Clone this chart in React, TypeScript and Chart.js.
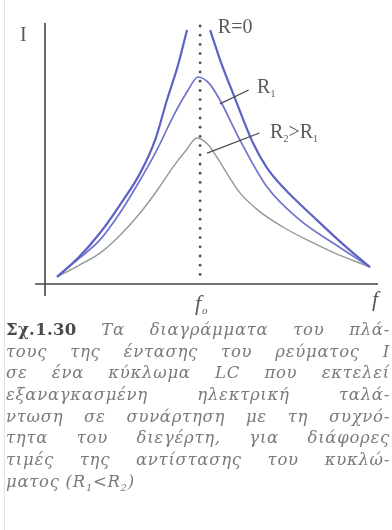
import React, { useEffect, useRef } from "react";
import { Chart, registerables } from "chart.js";

Chart.register(...registerables);

// frequency (arbitrary units, f0 ≈ 4.63) and current amplitude (arbitrary units)
const F0 = 4.63;
const r0Freq = [0.36, 1.0, 1.64, 2.24, 2.84, 3.3, 3.64, 3.95, 4.24, F0, 4.93, 5.25, 5.61, 6.21, 6.6, 7.1, 8.12, 8.9, 9.7];
const r0Amp = [0.27, 1.0, 1.93, 3.0, 4.2, 5.5, 6.97, 8.2, 9.62, null, 9.62, 8.4, 7.23, 5.34, 4.45, 3.67, 2.42, 1.5, 0.64];

const r1Freq = [0.36, 1.0, 1.64, 2.24, 2.84, 3.35, 3.82, 4.25, 4.57, 4.9, 5.22, 5.82, 6.63, 7.61, 8.6, 9.7];
const r1Amp = [0.27, 0.95, 1.67, 2.7, 3.94, 5.1, 6.33, 7.3, 7.84, 7.6, 6.97, 5.45, 3.67, 2.42, 1.55, 0.64];

const r2Freq = [0.36, 1.0, 1.64, 2.24, 2.84, 3.35, 3.82, 4.2, 4.54, 4.85, 5.13, 5.5, 5.82, 6.4, 7.1, 7.9, 8.6, 9.7];
const r2Amp = [0.27, 0.7, 1.17, 1.85, 2.69, 3.55, 4.43, 5.05, 5.53, 5.3, 4.81, 4.05, 3.45, 2.75, 2.16, 1.62, 1.2, 0.64];

const seriesLabels = ["R=0", "R₁", "R₂>R₁"];

const captionLines = [
  "τους της έντασης του ρεύματος I",
  "σε ένα κύκλωμα LC που εκτελεί",
  "εξαναγκασμένη ηλεκτρική ταλά-",
  "ντωση σε συνάρτηση με τη συχνό-",
  "τητα του διεγέρτη, για διάφορες",
  "τιμές της αντίστασης του κυκλώ-",
];

const pts = (xs: number[], ys: (number | null)[]) => xs.map((x, i) => ({ x, y: ys[i] }));

const extrasPlugin = {
  id: "extras",
  afterDraw(chart: any) {
    const { ctx, chartArea } = chart;
    const xs = chart.scales.x;
    const ys = chart.scales.y;
    const px = (v: number) => xs.getPixelForValue(v);
    const py = (v: number) => ys.getPixelForValue(v);
    ctx.save();
    // axes
    ctx.strokeStyle = "#454545";
    ctx.lineWidth = 1.6;
    ctx.beginPath();
    ctx.moveTo(chartArea.left, chartArea.top + 3);
    ctx.lineTo(chartArea.left, chartArea.bottom + 12);
    ctx.moveTo(chartArea.left - 10, chartArea.bottom);
    ctx.lineTo(chartArea.right - 2, chartArea.bottom);
    ctx.stroke();
    // dotted line at f0
    ctx.fillStyle = "#505050";
    const x0 = px(F0);
    for (let y = chartArea.top + 6; y < chartArea.bottom - 4; y += 9.2) {
      ctx.beginPath();
      ctx.arc(x0, y, 1.4, 0, Math.PI * 2);
      ctx.fill();
    }
    // leader lines
    ctx.strokeStyle = "#4a4a4a";
    ctx.lineWidth = 1.3;
    ctx.beginPath();
    ctx.moveTo(px(5.22), py(6.82));
    ctx.lineTo(px(6.08), py(7.35));
    ctx.moveTo(px(4.84), py(4.96));
    ctx.lineTo(px(6.4), py(5.72));
    ctx.stroke();
    // labels
    ctx.fillStyle = "#5a5a5a";
    ctx.textBaseline = "middle";
    ctx.font = "20px 'Liberation Serif', serif";
    ctx.fillText("I", chartArea.left - 25, py(9.4));
    ctx.fillText("R=0", px(5.16), py(9.7));
    // R1
    ctx.font = "20px 'Liberation Serif', serif";
    ctx.fillText("R", px(6.33), py(7.42));
    const w = ctx.measureText("R").width;
    ctx.font = "10px 'Liberation Serif', serif";
    ctx.fillText("1", px(6.33) + w, py(7.42) + 6);
    // R2>R1
    let x = px(6.72);
    const yl = py(5.72);
    ctx.font = "20px 'Liberation Serif', serif";
    ctx.fillText("R", x, yl);
    x += ctx.measureText("R").width;
    ctx.font = "10px 'Liberation Serif', serif";
    ctx.fillText("2", x, yl + 6);
    x += 5;
    ctx.font = "20px 'Liberation Serif', serif";
    ctx.fillText(">R", x, yl);
    x += ctx.measureText(">R").width;
    ctx.font = "10px 'Liberation Serif', serif";
    ctx.fillText("1", x, yl + 6);
    // axis labels
    ctx.font = "italic 22px 'Liberation Serif', serif";
    ctx.fillText("f", x0 - 5, chartArea.bottom + 20);
    ctx.font = "italic 11px 'Liberation Serif', serif";
    ctx.fillText("o", x0 + 2, chartArea.bottom + 27);
    ctx.font = "italic 22px 'Liberation Serif', serif";
    ctx.fillText("f", chartArea.right - 8, chartArea.bottom + 16);
    ctx.restore();
  },
};

export default function App() {
  const ref = useRef<HTMLCanvasElement | null>(null);
  useEffect(() => {
    if (!ref.current) return;
    const common = { pointRadius: 0, cubicInterpolationMode: "monotone" as const };
    const chart = new Chart(ref.current, {
      type: "line",
      data: {
        datasets: [
          { label: seriesLabels[0], data: pts(r0Freq, r0Amp), borderColor: "#5d62c4", borderWidth: 2.2, spanGaps: false, ...common },
          { label: seriesLabels[1], data: pts(r1Freq, r1Amp), borderColor: "#6f73cb", borderWidth: 1.7, ...common },
          { label: seriesLabels[2], data: pts(r2Freq, r2Amp), borderColor: "#8f9a95", borderWidth: 1.4, ...common },
        ] as any,
      },
      options: {
        animation: false,
        responsive: false,
        layout: { padding: { left: 45, right: 12, top: 20, bottom: 36 } },
        plugins: { legend: { display: false }, tooltip: { enabled: false } },
        scales: {
          x: { type: "linear", min: 0, max: 10, display: false },
          y: { min: 0, max: 10, display: false },
        },
      },
      plugins: [extrasPlugin],
    });
    return () => chart.destroy();
  }, []);

  const lineStyle: React.CSSProperties = {
    textAlign: "justify",
    textAlignLast: "justify",
    whiteSpace: "nowrap",
    height: 21.7,
    lineHeight: "21.7px",
  };

  return (
    <div style={{ position: "absolute", left: 0, top: 0, width: 392, height: 530, background: "#fff", overflow: "hidden" }}>
      <div style={{ position: "absolute", left: 4, top: 0, width: 1, height: 530, background: "#e2e2e2" }} />
      <canvas ref={ref} width={392} height={320} style={{ position: "absolute", left: 0, top: 0 }} />
      <div
        style={{
          position: "absolute",
          left: 6,
          top: 319,
          width: 384,
          fontFamily: "'DejaVu Serif', serif",
          fontStyle: "italic",
          fontSize: 16.5,
          letterSpacing: 0.7,
          color: "#7a7a7a",
        }}
      >
        <div style={lineStyle}>
          <span style={{ fontStyle: "normal", fontWeight: "bold", color: "#4a4a4a", letterSpacing: 0.3 }}>Σχ.1.30</span> Τα διαγράμματα του πλά-
        </div>
        {captionLines.map((l, i) => (
          <div key={i} style={lineStyle}>
            {l}
          </div>
        ))}
        <div style={{ height: 21.7, lineHeight: "21.7px" }}>
          ματος (R<sub style={{ fontSize: 10 }}>1</sub>&lt;R<sub style={{ fontSize: 10 }}>2</sub>)
        </div>
      </div>
    </div>
  );
}
